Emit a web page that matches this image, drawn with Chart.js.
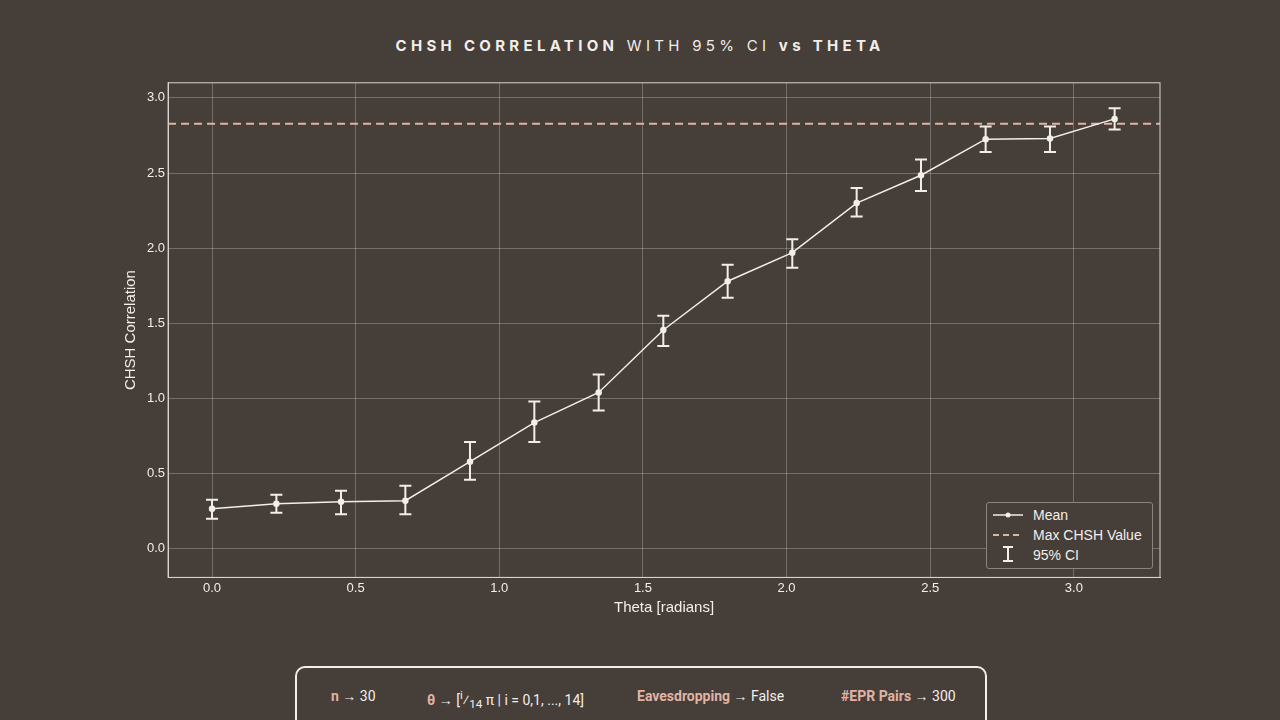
<!DOCTYPE html>
<html><head><meta charset="utf-8">
<script src="https://cdn.jsdelivr.net/npm/chart.js@4"></script>
<style>
body{margin:0;width:1280px;height:720px;background:#463e39;overflow:hidden;font-family:"Liberation Sans",Arial,sans-serif;position:relative}
#title{position:absolute;top:36px;left:0;width:1280px;text-align:center;color:#f2eeea;font-family:Inter,sans-serif;font-size:15px;letter-spacing:4.3px}
#wrap{position:absolute;left:118px;top:72px;width:1062px;height:545px}
#legend{position:absolute;left:986px;top:502px;width:165px;height:65px;border:1px solid #8a847f;background:#463e39;border-radius:3px;color:#f2eeea;font-size:14px}
#legend div{position:absolute;left:46px}
#info{position:absolute;left:295px;top:666px;width:688px;height:70px;border:2px solid #f2eeea;border-radius:10px;color:#f2eeea;font-family:Roboto,sans-serif;font-size:14px}
#info span{position:absolute;top:20px}
.k{color:#e0b4a4;font-weight:bold}
</style></head><body>
<div id="title"><b>CHSH CORRELATION</b> WITH 95% CI <b>vs THETA</b></div>
<div id="wrap"><canvas id="c"></canvas></div>
<div id="legend">
<svg width="46" height="65" style="position:absolute;left:0;top:0">
<line x1="6" y1="12" x2="36" y2="12" stroke="#f2eeea" stroke-width="1.5"/><circle cx="21" cy="12" r="2.5" fill="#f2eeea"/>
<line x1="6" y1="32" x2="36" y2="32" stroke="#e0b4a4" stroke-width="2" stroke-dasharray="6,4"/>
<line x1="21" y1="44" x2="21" y2="58" stroke="#f2eeea" stroke-width="2"/><line x1="16" y1="44" x2="26" y2="44" stroke="#f2eeea" stroke-width="2"/><line x1="16" y1="58" x2="26" y2="58" stroke="#f2eeea" stroke-width="2"/>
</svg>
<div style="top:4px">Mean</div><div style="top:24px">Max CHSH Value</div><div style="top:44px">95% CI</div>
</div>
<div id="info">
<span style="left:34px"><span class="k" style="position:static">n</span> → 30</span>
<span style="left:130px"><span class="k" style="position:static">θ</span> → [<sup>i</sup>⁄<sub>14</sub> π | i = 0,1, ..., 14]</span>
<span style="left:340px"><span class="k" style="position:static">Eavesdropping</span> → False</span>
<span style="left:544px"><span class="k" style="position:static">#EPR Pairs</span> → 300</span>
</div>
<script>
// data
var theta = [0, 0.224, 0.449, 0.673, 0.898, 1.122, 1.346, 1.571, 1.795, 2.02, 2.244, 2.468, 2.693, 2.917, 3.142];
var meanCorr = [0.267, 0.30, 0.314, 0.32, 0.58, 0.84, 1.04, 1.456, 1.78, 1.97, 2.30, 2.485, 2.725, 2.73, 2.86];
var ciLow = [0.20, 0.24, 0.23, 0.23, 0.46, 0.71, 0.92, 1.35, 1.67, 1.87, 2.21, 2.38, 2.64, 2.64, 2.79];
var ciHigh = [0.327, 0.36, 0.387, 0.42, 0.71, 0.98, 1.16, 1.55, 1.89, 2.06, 2.40, 2.59, 2.81, 2.81, 2.93];
var tickVals = [0, 0.5, 1, 1.5, 2, 2.5, 3];
var maxChsh = 2.828;

var errorBars = {
  id: 'errorBars',
  afterDatasetsDraw: function(chart) {
    var ctx = chart.ctx, x = chart.scales.x, y = chart.scales.y, a = chart.chartArea;
    ctx.save();
    ctx.strokeStyle = '#d8d4d0';
    ctx.lineWidth = 1;
    ctx.strokeRect(a.left, a.top, a.right - a.left, a.bottom - a.top);
    ctx.strokeStyle = '#f2eeea';
    ctx.lineWidth = 2;
    theta.forEach(function(t, i) {
      var px = x.getPixelForValue(t), lo = y.getPixelForValue(ciLow[i]), hi = y.getPixelForValue(ciHigh[i]);
      ctx.beginPath();
      ctx.moveTo(px, lo); ctx.lineTo(px, hi);
      ctx.moveTo(px - 6, lo); ctx.lineTo(px + 6, lo);
      ctx.moveTo(px - 6, hi); ctx.lineTo(px + 6, hi);
      ctx.stroke();
    });
    ctx.restore();
  }
};

function fixedTicks(s) { s.ticks = tickVals.map(function(v) { return {value: v}; }); }

new Chart(document.getElementById('c'), {
  type: 'scatter',
  data: {
    datasets: [{
      data: theta.map(function(t, i) { return {x: t, y: meanCorr[i]}; }),
      showLine: true, borderColor: '#f2eeea', backgroundColor: '#f2eeea',
      borderWidth: 1.5, pointRadius: 2.5
    }, {
      data: [{x: -0.153, y: maxChsh}, {x: 3.30, y: maxChsh}],
      showLine: true, borderColor: '#e0b4a4', borderDash: [8, 5], borderWidth: 2, pointRadius: 0
    }]
  },
  options: {
    responsive: true, maintainAspectRatio: false, animation: false,
    plugins: {legend: {display: false}, tooltip: {enabled: false}},
    layout: {padding: {right: 20, top: 10}},
    scales: {
      x: {min: -0.153, max: 3.30, afterBuildTicks: fixedTicks,
        ticks: {color: '#f2eeea', font: {size: 13}, callback: function(v) { return v.toFixed(1); }},
        grid: {color: 'rgba(255,255,255,0.25)', drawTicks: false},
        border: {color: '#d8d4d0'},
        title: {display: true, text: 'Theta [radians]', color: '#f2eeea', font: {size: 15}, padding: 0}},
      y: {min: -0.19, max: 3.1, afterBuildTicks: fixedTicks,
        ticks: {color: '#f2eeea', font: {size: 13}, callback: function(v) { return v.toFixed(1); }},
        grid: {color: 'rgba(255,255,255,0.25)', drawTicks: false},
        border: {color: '#d8d4d0'},
        title: {display: true, text: 'CHSH Correlation', color: '#f2eeea', font: {size: 15}}}
    }
  },
  plugins: [errorBars]
});
</script>
</body></html>
